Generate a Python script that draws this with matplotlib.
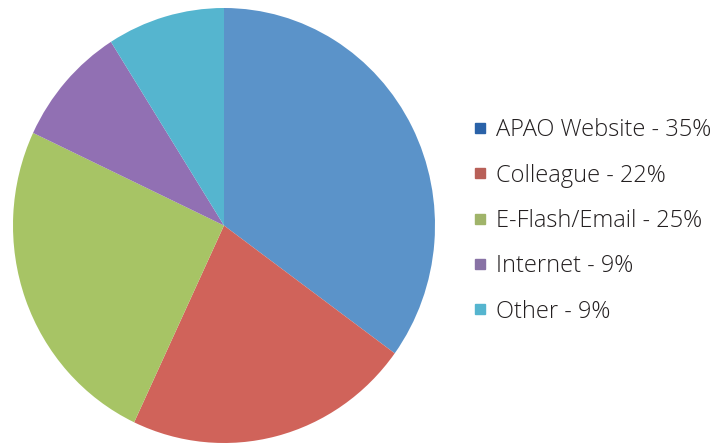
import matplotlib.pyplot as plt
from matplotlib.lines import Line2D

# datos del grafico
fuentes = ['APAO Website', 'Colleague', 'E-Flash/Email', 'Internet', 'Other']
porcentajes = [35, 22, 25, 9, 9]
colores = ['#5b93c9', '#d0635a', '#a7c465', '#9170b3', '#55b5cf']
colores_leyenda = ['#2a62a8', '#b86058', '#a0b46a', '#8872a5', '#55b5cf']

plt.rcParams['font.family'] = ['Open Sans', 'DejaVu Sans']

fig = plt.figure(figsize=(7.23, 4.45), dpi=100)
# el circulo queda un poco mas alto que ancho, como en el original
ax = fig.add_axes([13 / 723, 2 / 445, 422 / 723, 435 / 445])
ax.pie(porcentajes, colors=colores, startangle=90, counterclock=False,
       wedgeprops={'linewidth': 0})
ax.set_xlim(-1, 1)
ax.set_ylim(-1, 1)
ax.set_aspect('auto')

# leyenda con etiquetas y porcentaje
etiquetas = [f'{f} - {p}%' for f, p in zip(fuentes, porcentajes)]
handles = [Line2D([], [], marker='s', linestyle='', markersize=6.5,
                  markerfacecolor=c, markeredgecolor=c) for c in colores_leyenda]
fig.legend(handles, etiquetas, loc='center left', bbox_to_anchor=(453 / 723, 1 - 221 / 445),
           frameon=False, prop={'size': 17, 'weight': 'light'}, labelspacing=0.9,
           handlelength=0.5, handletextpad=0.4, labelcolor='#231f20')

fig.savefig('out.png', dpi=100)
